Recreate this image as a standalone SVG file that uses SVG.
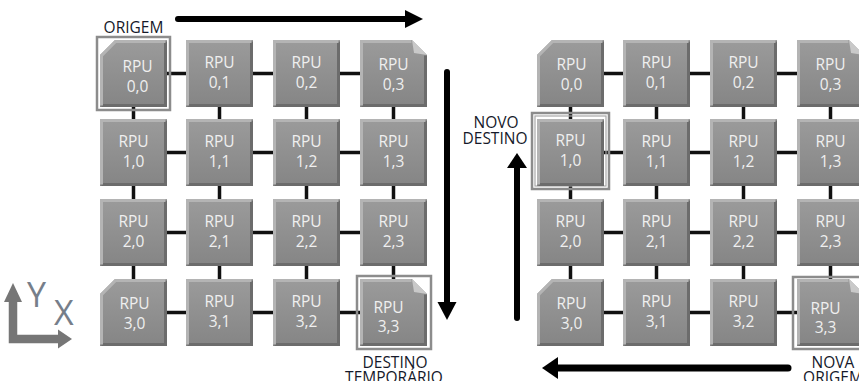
<svg xmlns="http://www.w3.org/2000/svg" xmlns:xlink="http://www.w3.org/1999/xlink" width="859" height="381" viewBox="0 0 859 381">
<style>
.t{font-family:"Open Sans","Noto Sans",sans-serif;font-size:15.5px;fill:#efefef;text-anchor:middle}
.lbl{font-family:"Open Sans","Noto Sans",sans-serif;font-size:15.5px;fill:#15192a;text-anchor:middle}
.ax{font-family:"Open Sans","Noto Sans",sans-serif;font-size:34px;fill:#767e8a}
.c{stroke:#111;stroke-width:3.5;fill:none}
.fr{fill:none;stroke:#8c8c8c;stroke-width:2.5}
.hi{fill:none;stroke:#b4b4b4;stroke-width:3}
.sh{fill:none;stroke:#6c6c6c;stroke-width:3}
.big{stroke:#000;stroke-width:6;stroke-linecap:round;fill:none}
</style>
<defs>
<linearGradient id="g" x1="0" y1="0" x2="0" y2="1">
<stop offset="0" stop-color="#9b9b9b"/>
<stop offset="1" stop-color="#858585"/>
</linearGradient>
<g id="sq">
<path d="M0,0H67V67H0Z" fill="url(#g)"/>
<path class="sh" d="M1.5,65.5H65.5V1.5"/>
<path class="hi" d="M1.5,65.5V1.5H65.5"/>
</g>
<g id="tl">
<path d="M15,0H67V67H0V15Z" fill="url(#g)"/>
<path class="sh" d="M1.5,65.5H65.5V1.5"/>
<path class="hi" d="M1.5,65.5V15.6L15.6,1.5H65.5"/>
</g>
<g id="tr">
<path d="M0,0H52L67,15V67H0Z" fill="url(#g)"/>
<path class="sh" d="M1.5,65.5H65.5V15.6"/>
<path class="hi" d="M1.5,65.5V1.5H51.4"/>
<path d="M52,0L67,15L54,13Z" fill="#c9c9c9"/>
</g>
</defs>
<rect width="859" height="381" fill="#fff"/>

<g id="connectors">
<path class="c" d="M167,73.5H186M253,73.5H273M340,73.5H360M167,152.5H186M253,152.5H273M340,152.5H360M167,232.5H186M253,232.5H273M340,232.5H360M167,312.5H186M253,312.5H273M340,312.5H360"/>
<path class="c" d="M133.5,107V119M133.5,186V199M133.5,266V279M219.5,107V119M219.5,186V199M219.5,266V279M306.5,107V119M306.5,186V199M306.5,266V279M393.5,107V119M393.5,186V199M393.5,266V279"/>
<path class="c" d="M604,73.5H623M690,73.5H710M777,73.5H797M604,152.5H623M690,152.5H710M777,152.5H797M604,232.5H623M690,232.5H710M777,232.5H797M604,312.5H623M690,312.5H710M777,312.5H797"/>
<path class="c" d="M570.5,107V119M570.5,186V199M570.5,266V279M656.5,107V119M656.5,186V199M656.5,266V279M743.5,107V119M743.5,186V199M743.5,266V279M830.5,107V119M830.5,186V199M830.5,266V279"/>
</g>

<g id="L00" transform="translate(100,40)"><rect class="fr" x="-3" y="-3" width="73" height="73"/><use href="#tl"/><text class="t" x="37.5" y="31.5">RPU</text><text class="t" x="37.5" y="51.5">0,0</text></g>
<g id="L01" transform="translate(186,40)"><use href="#sq"/><text class="t" x="33.5" y="27.5">RPU</text><text class="t" x="33.5" y="47.5">0,1</text></g>
<g id="L02" transform="translate(273,40)"><use href="#sq"/><text class="t" x="33.5" y="27.5">RPU</text><text class="t" x="33.5" y="47.5">0,2</text></g>
<g id="L03" transform="translate(360,40)"><use href="#tr"/><text class="t" x="33.5" y="29.5">RPU</text><text class="t" x="33.5" y="49.5">0,3</text></g>
<g id="L10" transform="translate(100,119)"><use href="#sq"/><text class="t" x="33.5" y="27.5">RPU</text><text class="t" x="33.5" y="47.5">1,0</text></g>
<g id="L11" transform="translate(186,119)"><use href="#sq"/><text class="t" x="33.5" y="27.5">RPU</text><text class="t" x="33.5" y="47.5">1,1</text></g>
<g id="L12" transform="translate(273,119)"><use href="#sq"/><text class="t" x="33.5" y="27.5">RPU</text><text class="t" x="33.5" y="47.5">1,2</text></g>
<g id="L13" transform="translate(360,119)"><use href="#sq"/><text class="t" x="33.5" y="27.5">RPU</text><text class="t" x="33.5" y="47.5">1,3</text></g>
<g id="L20" transform="translate(100,199)"><use href="#sq"/><text class="t" x="33.5" y="27.5">RPU</text><text class="t" x="33.5" y="47.5">2,0</text></g>
<g id="L21" transform="translate(186,199)"><use href="#sq"/><text class="t" x="33.5" y="27.5">RPU</text><text class="t" x="33.5" y="47.5">2,1</text></g>
<g id="L22" transform="translate(273,199)"><use href="#sq"/><text class="t" x="33.5" y="27.5">RPU</text><text class="t" x="33.5" y="47.5">2,2</text></g>
<g id="L23" transform="translate(360,199)"><use href="#sq"/><text class="t" x="33.5" y="27.5">RPU</text><text class="t" x="33.5" y="47.5">2,3</text></g>
<g id="L30" transform="translate(100,279)"><use href="#tl"/><text class="t" x="34.5" y="29.5">RPU</text><text class="t" x="34.5" y="49.5">3,0</text></g>
<g id="L31" transform="translate(186,279)"><use href="#sq"/><text class="t" x="33.5" y="27.5">RPU</text><text class="t" x="33.5" y="47.5">3,1</text></g>
<g id="L32" transform="translate(273,279)"><use href="#sq"/><text class="t" x="33.5" y="27.5">RPU</text><text class="t" x="33.5" y="47.5">3,2</text></g>
<g id="L33" transform="translate(360,279)"><rect class="fr" x="-3" y="-3" width="74" height="73"/><use href="#tr"/><text class="t" x="28.5" y="33.5">RPU</text><text class="t" x="28.5" y="52.5">3,3</text></g>

<g id="R00" transform="translate(537,40)"><use href="#tl"/><text class="t" x="34.5" y="29.5">RPU</text><text class="t" x="34.5" y="49.5">0,0</text></g>
<g id="R01" transform="translate(623,40)"><use href="#sq"/><text class="t" x="33.5" y="27.5">RPU</text><text class="t" x="33.5" y="47.5">0,1</text></g>
<g id="R02" transform="translate(710,40)"><use href="#sq"/><text class="t" x="33.5" y="27.5">RPU</text><text class="t" x="33.5" y="47.5">0,2</text></g>
<g id="R03" transform="translate(797,40)"><use href="#tr"/><text class="t" x="33.5" y="29.5">RPU</text><text class="t" x="33.5" y="49.5">0,3</text></g>
<g id="R10" transform="translate(537,119)"><rect class="fr" x="-5" y="-6" width="77" height="76"/><rect fill="none" stroke="#a8a8a8" stroke-width="1.2" x="-2" y="-3" width="71" height="70"/><use href="#sq"/><text class="t" x="33.5" y="26.5">RPU</text><text class="t" x="33.5" y="46.5">1,0</text></g>
<g id="R11" transform="translate(623,119)"><use href="#sq"/><text class="t" x="33.5" y="27.5">RPU</text><text class="t" x="33.5" y="47.5">1,1</text></g>
<g id="R12" transform="translate(710,119)"><use href="#sq"/><text class="t" x="33.5" y="27.5">RPU</text><text class="t" x="33.5" y="47.5">1,2</text></g>
<g id="R13" transform="translate(797,119)"><use href="#sq"/><text class="t" x="33.5" y="27.5">RPU</text><text class="t" x="33.5" y="47.5">1,3</text></g>
<g id="R20" transform="translate(537,199)"><use href="#sq"/><text class="t" x="33.5" y="27.5">RPU</text><text class="t" x="33.5" y="47.5">2,0</text></g>
<g id="R21" transform="translate(623,199)"><use href="#sq"/><text class="t" x="33.5" y="27.5">RPU</text><text class="t" x="33.5" y="47.5">2,1</text></g>
<g id="R22" transform="translate(710,199)"><use href="#sq"/><text class="t" x="33.5" y="27.5">RPU</text><text class="t" x="33.5" y="47.5">2,2</text></g>
<g id="R23" transform="translate(797,199)"><use href="#sq"/><text class="t" x="33.5" y="27.5">RPU</text><text class="t" x="33.5" y="47.5">2,3</text></g>
<g id="R30" transform="translate(537,279)"><use href="#tl"/><text class="t" x="34.5" y="29.5">RPU</text><text class="t" x="34.5" y="49.5">3,0</text></g>
<g id="R31" transform="translate(623,279)"><use href="#sq"/><text class="t" x="33.5" y="27.5">RPU</text><text class="t" x="33.5" y="47.5">3,1</text></g>
<g id="R32" transform="translate(710,279)"><use href="#sq"/><text class="t" x="33.5" y="27.5">RPU</text><text class="t" x="33.5" y="47.5">3,2</text></g>
<g id="R33" transform="translate(797,279)"><rect class="fr" x="-4" y="-2" width="76" height="72"/><use href="#tr"/><text class="t" x="28.5" y="34.5">RPU</text><text class="t" x="28.5" y="53.5">3,3</text></g>

<g id="arrows">
<path class="big" d="M178,19H407"/>
<path d="M405,10L423,19L405,28Z" fill="#000"/>
<path class="big" d="M447,72V304"/>
<path d="M437.5,302L456.5,302L447,320Z" fill="#000"/>
<path class="big" d="M517,318V166"/>
<path d="M507,168L527,168L517,153Z" fill="#000"/>
<path class="big" style="stroke-width:7" d="M556,368H788"/>
<path d="M558,357L558,379L542,368Z" fill="#000"/>
</g>

<g id="axes">
<path d="M13,298V339H60" fill="none" stroke="#767676" stroke-width="8.5"/>
<path d="M4,302L13,283L22,302Z" fill="#767676"/>
<path d="M58,329.5L72,339L58,348.5Z" fill="#767676"/>
<text class="ax" x="27" y="307">Y</text>
<text class="ax" x="54" y="325">X</text>
</g>

<g id="labels">
<text class="lbl" x="133.5" y="33">ORIGEM</text>
<text class="lbl" x="395" y="368">DESTINO</text>
<text class="lbl" x="394" y="383">TEMPORÁRIO</text>
<text class="lbl" x="496" y="128">NOVO</text>
<text class="lbl" x="495" y="144">DESTINO</text>
<text class="lbl" x="833" y="368">NOVA</text>
<text class="lbl" x="833" y="383">ORIGEM</text>
</g>
</svg>
